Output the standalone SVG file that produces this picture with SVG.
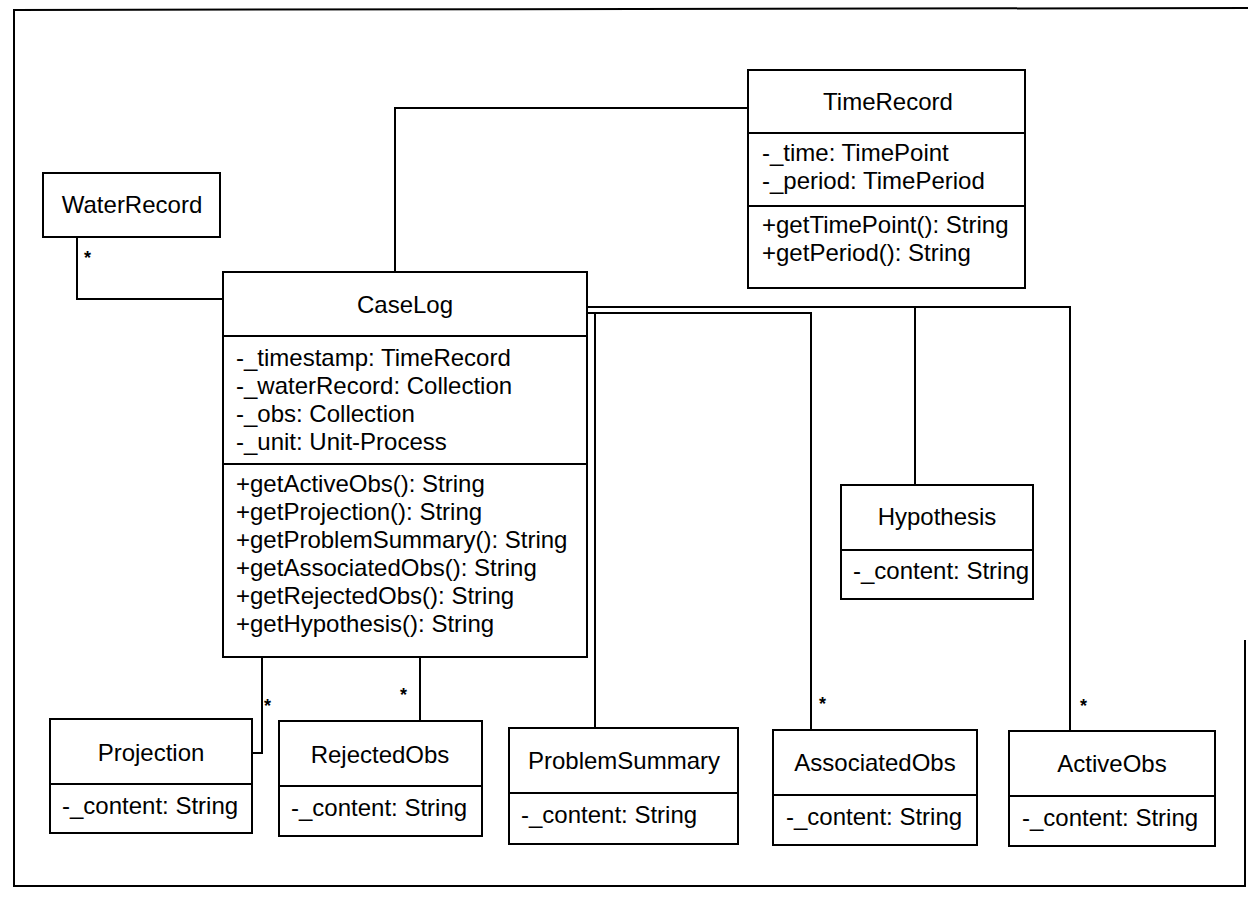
<svg xmlns="http://www.w3.org/2000/svg" width="1248" height="920" viewBox="0 0 1248 920">
  <style>
    .box { fill: #fff; stroke: #000; stroke-width: 2; }
    .sep { stroke: #000; stroke-width: 2; }
    .conn { fill: none; stroke: #000; stroke-width: 2; }
    .frame { fill: none; stroke: #000; stroke-width: 2; }
    text { font-family: "Liberation Sans", Arial, sans-serif; font-size: 24px; fill: #000; }
    .title { text-anchor: middle; }
    .mult { font-size: 18px; font-weight: bold; }
  </style>

  <!-- outer frame -->
  <g id="frame">
    <polyline class="frame" points="1248,8 14,10 14,886 1245,886 1245,640"/>
  </g>

  <!-- associations -->
  <g id="connectors">
    <polyline class="conn" points="77,237 77,299 223,299"/>
    <polyline class="conn" points="748,108 395,108 395,272"/>
    <polyline class="conn" points="262,657 262,753 252,753"/>
    <polyline class="conn" points="420,657 420,721"/>
    <polyline class="conn" points="587,307 1070,307 1070,731"/>
    <polyline class="conn" points="915,307 915,485"/>
    <polyline class="conn" points="587,313 811,313 811,730"/>
    <polyline class="conn" points="595,313 595,728"/>
    <text class="mult" x="84" y="264">*</text>
    <text class="mult" x="264" y="712">*</text>
    <text class="mult" x="400" y="701">*</text>
    <text class="mult" x="819" y="710">*</text>
    <text class="mult" x="1080" y="712">*</text>
  </g>

  <g id="TimeRecord">
    <rect class="box" x="748" y="70" width="277" height="218"/>
    <line class="sep" x1="748" y1="133" x2="1025" y2="133"/>
    <line class="sep" x1="748" y1="206" x2="1025" y2="206"/>
    <text class="title" x="888" y="110">TimeRecord</text>
    <text x="762" y="161">-_time: TimePoint</text>
    <text x="762" y="189">-_period: TimePeriod</text>
    <text x="762" y="233">+getTimePoint(): String</text>
    <text x="762" y="261">+getPeriod(): String</text>
  </g>

  <g id="WaterRecord">
    <rect class="box" x="43" y="173" width="177" height="64"/>
    <text class="title" x="132" y="213">WaterRecord</text>
  </g>

  <g id="CaseLog">
    <rect class="box" x="223" y="272" width="364" height="385"/>
    <line class="sep" x1="223" y1="336" x2="587" y2="336"/>
    <line class="sep" x1="223" y1="464" x2="587" y2="464"/>
    <text class="title" x="405" y="313">CaseLog</text>
    <text x="236" y="366">-_timestamp: TimeRecord</text>
    <text x="236" y="394">-_waterRecord: Collection</text>
    <text x="236" y="422">-_obs: Collection</text>
    <text x="236" y="450">-_unit: Unit-Process</text>
    <text x="236" y="492">+getActiveObs(): String</text>
    <text x="236" y="520">+getProjection(): String</text>
    <text x="236" y="548">+getProblemSummary(): String</text>
    <text x="236" y="576">+getAssociatedObs(): String</text>
    <text x="236" y="604">+getRejectedObs(): String</text>
    <text x="236" y="632">+getHypothesis(): String</text>
  </g>

  <g id="Hypothesis">
    <rect class="box" x="841" y="485" width="192" height="114"/>
    <line class="sep" x1="841" y1="550" x2="1033" y2="550"/>
    <text class="title" x="937" y="525">Hypothesis</text>
    <text x="853" y="579">-_content: String</text>
  </g>

  <g id="Projection">
    <rect class="box" x="50" y="719" width="202" height="114"/>
    <line class="sep" x1="50" y1="784" x2="252" y2="784"/>
    <text class="title" x="151" y="761">Projection</text>
    <text x="62" y="814">-_content: String</text>
  </g>

  <g id="RejectedObs">
    <rect class="box" x="279" y="721" width="203" height="115"/>
    <line class="sep" x1="279" y1="786" x2="482" y2="786"/>
    <text class="title" x="380" y="763">RejectedObs</text>
    <text x="291" y="816">-_content: String</text>
  </g>

  <g id="ProblemSummary">
    <rect class="box" x="509" y="728" width="229" height="116"/>
    <line class="sep" x1="509" y1="793" x2="738" y2="793"/>
    <text class="title" x="624" y="769">ProblemSummary</text>
    <text x="521" y="823">-_content: String</text>
  </g>

  <g id="AssociatedObs">
    <rect class="box" x="773" y="730" width="204" height="115"/>
    <line class="sep" x1="773" y1="795" x2="977" y2="795"/>
    <text class="title" x="875" y="771">AssociatedObs</text>
    <text x="786" y="825">-_content: String</text>
  </g>

  <g id="ActiveObs">
    <rect class="box" x="1009" y="731" width="206" height="115"/>
    <line class="sep" x1="1009" y1="796" x2="1215" y2="796"/>
    <text class="title" x="1112" y="772">ActiveObs</text>
    <text x="1022" y="826">-_content: String</text>
  </g>
</svg>
